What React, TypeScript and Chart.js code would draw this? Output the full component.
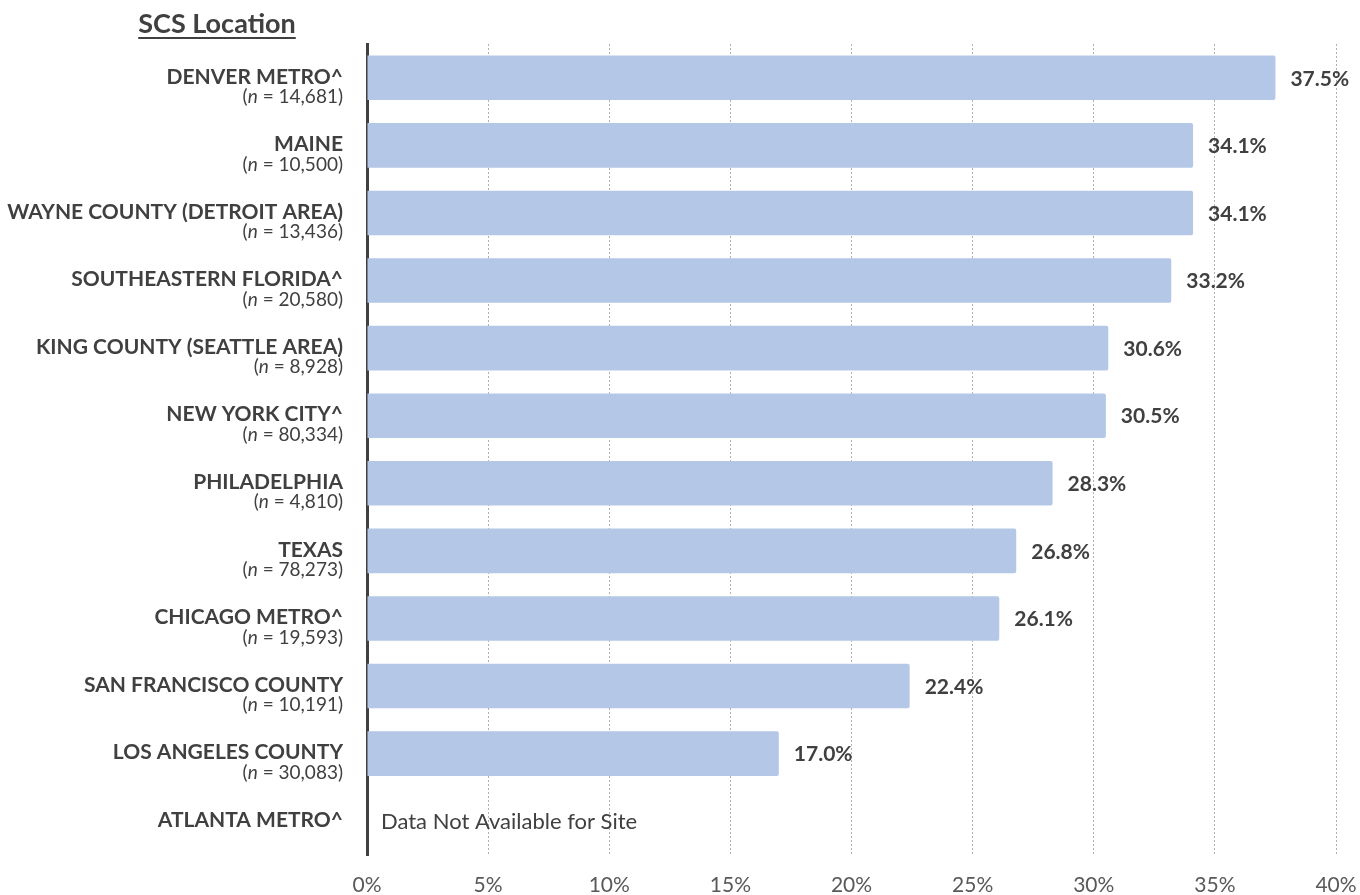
import React, { useEffect, useRef } from "react";
import { Chart, registerables } from "chart.js";

Chart.register(...registerables);

const categories = [
  "DENVER METRO^",
  "MAINE",
  "WAYNE COUNTY (DETROIT AREA)",
  "SOUTHEASTERN FLORIDA^",
  "KING COUNTY (SEATTLE AREA)",
  "NEW YORK CITY^",
  "PHILADELPHIA",
  "TEXAS",
  "CHICAGO METRO^",
  "SAN FRANCISCO COUNTY",
  "LOS ANGELES COUNTY",
  "ATLANTA METRO^",
];
const sampleSizes = [
  "14,681", "10,500", "13,436", "20,580", "8,928", "80,334",
  "4,810", "78,273", "19,593", "10,191", "30,083", "",
];
const values: (number | null)[] = [
  37.5, 34.1, 34.1, 33.2, 30.6, 30.5, 28.3, 26.8, 26.1, 22.4, 17.0, null,
];
const xTicks = [0, 5, 10, 15, 20, 25, 30, 35, 40];
const title = "SCS Location";
const missingNote = "Data Not Available for Site";

const FONT = "Lato, 'Open Sans', sans-serif";
const TEXT = "#404040";

const labelPlugin = {
  id: "customLabels",
  afterDraw(chart: any) {
    const ctx = chart.ctx;
    const y = chart.scales.y;
    const x = chart.scales.x;
    const rightEdge = chart.chartArea.left - 24;
    ctx.save();
    ctx.textBaseline = "middle";
    categories.forEach((name, i) => {
      const cy = y.getPixelForValue(i);
      ctx.fillStyle = TEXT;
      ctx.textAlign = "right";
      ctx.font = `bold 21px ${FONT}`;
      ctx.fillText(name, rightEdge, cy - 1);
      const n = sampleSizes[i];
      if (n) {
        const ny = cy + 19;
        ctx.font = `19px ${FONT}`;
        const tail = ` = ${n})`;
        const wTail = ctx.measureText(tail).width;
        ctx.fillText(tail, rightEdge, ny);
        ctx.font = `italic 19px ${FONT}`;
        const wN = ctx.measureText("n").width;
        ctx.fillText("n", rightEdge - wTail, ny);
        ctx.font = `19px ${FONT}`;
        ctx.fillText("(", rightEdge - wTail - wN, ny);
      }
      const v = values[i];
      ctx.textAlign = "left";
      if (v !== null) {
        ctx.font = `bold 21px ${FONT}`;
        ctx.fillText(v.toFixed(1) + "%", x.getPixelForValue(v) + 15, cy + 1);
      } else {
        ctx.font = `22px ${FONT}`;
        ctx.fillText(missingNote, x.getPixelForValue(0) + 14, cy + 1);
      }
    });
    // title
    ctx.font = `bold 27px ${FONT}`;
    ctx.textAlign = "center";
    ctx.fillStyle = TEXT;
    const tx = 217;
    const ty = 24;
    ctx.fillText(title, tx, ty);
    const tw = ctx.measureText(title).width;
    ctx.fillRect(tx - tw / 2, 37, tw, 2);
    ctx.restore();
  },
};

export default function App() {
  const ref = useRef<HTMLCanvasElement | null>(null);
  useEffect(() => {
    if (!ref.current) return;
    const chart = new Chart(ref.current, {
      type: "bar",
      data: {
        labels: categories,
        datasets: [
          {
            data: values,
            backgroundColor: "#B4C7E7",
            borderRadius: 2,
            borderSkipped: "start",
            barPercentage: 0.66,
            categoryPercentage: 1,
          },
        ],
      },
      options: {
        indexAxis: "y",
        animation: false,
        responsive: false,
        layout: { padding: { top: 44, right: 24, left: 0, bottom: 0 } },
        plugins: { legend: { display: false }, tooltip: { enabled: false } },
        scales: {
          x: {
            min: 0,
            max: 40,
            afterBuildTicks(scale: any) {
              scale.ticks = xTicks.map((v) => ({ value: v }));
            },
            afterFit(scale: any) {
              scale.height = 40;
              scale.paddingRight = 0;
              scale.paddingLeft = 0;
            },
            ticks: {
              padding: 18,
              color: "#595959",
              font: { family: FONT, size: 21 },
              callback: (v: any) => v + "%",
              maxRotation: 0,
            },
            grid: {
              color: "#B0B0B0",
              lineWidth: 1,
              drawTicks: false,
            },
            border: { display: false, dash: [2, 2] },
          },
          y: {
            afterFit(scale: any) {
              scale.width = 367;
            },
            ticks: { display: false },
            grid: { display: false, drawTicks: false },
            border: { display: true, color: "#404040", width: 3 },
          },
        },
      },
      plugins: [labelPlugin],
    });
    return () => chart.destroy();
  }, []);
  return (
    <div style={{ position: "fixed", left: 0, top: 0, width: 1360, height: 895, background: "#fff" }}>
      <canvas ref={ref} width={1360} height={895} />
    </div>
  );
}
